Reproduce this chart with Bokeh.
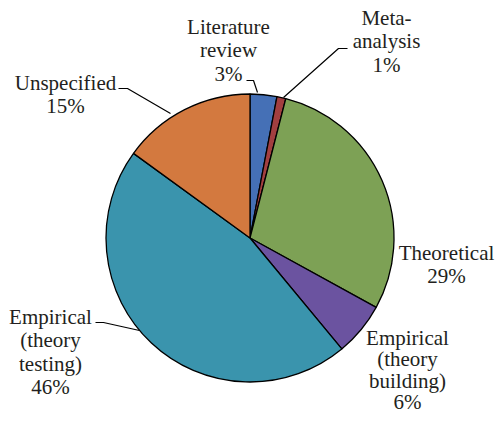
import math
from bokeh.plotting import figure
from bokeh.models import Range1d, ColumnDataSource
from bokeh.core.properties import value
from bokeh.embed import file_html
from bokeh.resources import INLINE

# ---- data ----
categories = ["Literature review", "Meta-analysis", "Theoretical",
              "Empirical (theory building)", "Empirical (theory testing)", "Unspecified"]
label_lines = [["Literature", "review"], ["Meta-", "analysis"], ["Theoretical"],
               ["Empirical", "(theory", "building)"], ["Empirical", "(theory", "testing)"],
               ["Unspecified"]]
percentages = [3, 1, 29, 6, 46, 15]
colors = ["#4570B6", "#A23F40", "#7DA155", "#6B53A0", "#3A94AD", "#D3793F"]

W, H = 496, 414


def Y(py):
    return H - py


p = figure(width=W, height=H, output_backend="svg", toolbar_location=None,
           x_range=Range1d(0, W), y_range=Range1d(0, H), min_border=0)
p.axis.visible = False
p.grid.visible = False
p.outline_line_color = None
p.background_fill_color = "white"

cx, cy, r = 249.5, Y(237.5), 144.0
total = float(sum(percentages))
starts, ends = [], []
acc = 0.0
for v in percentages:
    a0 = math.pi / 2 - 2 * math.pi * acc / total
    acc += v
    a1 = math.pi / 2 - 2 * math.pi * acc / total
    starts.append(a0)
    ends.append(a1)

src = ColumnDataSource(dict(start=starts, end=ends, color=colors, cat=categories))
p.wedge(x=cx, y=cy, radius=r, start_angle="start", end_angle="end",
        direction="clock", fill_color="color", line_color="black", line_width=1.3,
        source=src)

# ---- labels ----
label_pos = [(228, 26), (386, 17), (446, 252), (407, 337), (50, 316), (65, 82)]
label_gap = [23.5, 23.5, 23.5, 21.5, 23.5, 23.5]
xs, ys, ts = [], [], []
for lines, pct, (lx, ly), g in zip(label_lines, percentages, label_pos, label_gap):
    all_lines = lines + [f"{pct}%"]
    for i, t in enumerate(all_lines):
        xs.append(lx)
        ys.append(Y(ly + i * g))
        ts.append(t)
p.text(x=xs, y=ys, text=ts, text_align="center", text_baseline="alphabetic",
       text_font=value("Liberation Serif"), text_font_size="21px", text_color="#231F20")

# ---- leader lines ----
leaders = [
    [(246, 80), (253, 80), (257, 92)],
    [(347, 48), (338, 48), (283, 97)],
    [(118, 88), (127, 88), (170, 113)],
    [(95, 322), (103, 322), (139, 330)],
]
p.multi_line(xs=[[a for a, b in l] for l in leaders],
             ys=[[Y(b) for a, b in l] for l in leaders],
             line_color="black", line_width=1.2)

open("out.html", "w").write(file_html(p, INLINE))
